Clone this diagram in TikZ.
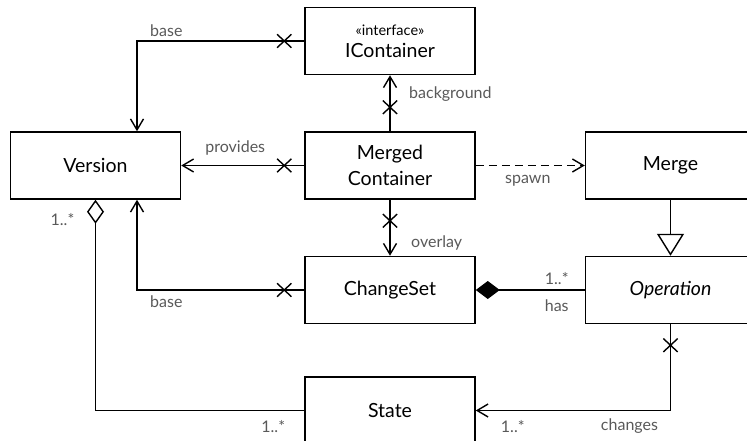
\documentclass[tikz,border=0pt]{standalone}
\usepackage{fontspec}
\setmainfont{Lato}
\usetikzlibrary{positioning,arrows.meta,shapes.misc}

\begin{document}
\begin{tikzpicture}[
          cls/.style={rectangle, draw, line width=1.5pt, fill=white,
              minimum width=170pt, minimum height=67pt, inner sep=0pt,
              font=\fontsize{19.5}{26}\selectfont, align=center},
          lbl/.style={font=\fontsize{16}{18}\selectfont, text=black!65, inner sep=0pt},
          assoc/.style={line width=1.4pt, -{Straight Barb[length=11pt, width=13pt]}},
          gen/.style={line width=1.4pt, -{Triangle[open, length=22pt, width=27pt, fill=white]}},
          comp/.style={line width=1.4pt, {Diamond[length=24pt, width=18pt]}-},
          aggr/.style={line width=1.4pt, {Diamond[open, length=24pt, width=17pt, fill=white]}-},
          xmark/.style={cross out, draw, line width=1.4pt, minimum width=13pt,
              minimum height=12pt, inner sep=0pt}
        ]
        \useasboundingbox (0,0) rectangle (747pt,-441pt);
        \clip (0,0) rectangle (747pt,-441pt);
        % classes
        \node[cls] (merged) at (390pt,-165.5pt) {Merged\\Container};
        \node[cls, above=56pt of merged]  (icont)   {{\fontsize{14.5}{16}\selectfont «interface»}\\[-4pt]IContainer};
        \node[cls, left=123pt of merged]  (version) {Version};
        \node[cls, right=109pt of merged] (merge)   {Merge};
        \node[cls, below=56pt of merged]  (change)  {ChangeSet};
        \node[cls, right=109pt of change] (oper)    {\itshape Operation};
        \node[cls, below=52pt of change]  (state)   {State};
        % helper points
        \coordinate (vtop) at ([xshift=41.5pt]version.north);
        \coordinate (vbot) at ([xshift=41.5pt]version.south);
        % connectors
        \draw[assoc] (icont.west) -| (vtop);
        \draw[assoc] (merged.west) -- (version.east);
        \draw[assoc] (merged.north) -- (icont.south);
        \draw[assoc] (merged.south) -- (change.north);
        \draw[assoc, dash pattern=on 8pt off 5pt] (merged.east) -- (merge.west);
        \draw[gen] (merge.south) -- (oper.north);
        \draw[assoc] (change.west) -| (vbot);
        \draw[comp] (change.east) -- (oper.west);
        \draw[aggr] (version.south) |- (state.west);
        \draw[assoc] (oper.south) |- (state.east);
        % non-navigable ends
        \node[xmark] (xbase)  at ([xshift=-20pt]icont.west) {};
        \node[xmark] (xprov)  at ([xshift=-20pt]merged.west) {};
        \node[xmark] (xback)  at ([yshift=24pt]merged.north) {};
        \node[xmark] (xover)  at ([yshift=-21pt]merged.south) {};
        \node[xmark] (xcbase) at ([xshift=-20pt]change.west) {};
        \node[xmark] (xchg)   at ([yshift=-21pt]oper.south) {};
        % labels
        \node[lbl, anchor=base west] (lbase)  at ([xshift=13pt, yshift=4pt]vtop |- icont.west) {base};
        \node[lbl, anchor=base]      (lprov)  at ([xshift=54pt, yshift=13pt]version.east) {provides};
        \node[lbl, anchor=base west] (lback)  at ([xshift=19pt, yshift=-23pt]icont.south) {background};
        \node[lbl, anchor=base west] (lover)  at ([xshift=21pt, yshift=8pt]change.north) {overlay};
        \node[lbl, anchor=base]      (lspawn) at ([xshift=52pt, yshift=-18pt]merged.east) {spawn};
        \node[lbl, anchor=base west] (lcbase) at ([xshift=13pt, yshift=-17pt]vbot |- change.west) {base};
        \node[lbl, anchor=base]      (lhasm)  at ([xshift=-28pt, yshift=6pt]oper.west) {1..*};
        \node[lbl, anchor=base]      (lhas)   at ([xshift=-28pt, yshift=-21pt]oper.west) {has};
        \node[lbl, anchor=base east] (lvm)    at ([xshift=-21pt, yshift=-26pt]version.south) {1..*};
        \node[lbl, anchor=base east] (lsm)    at ([xshift=-19pt, yshift=-22pt]state.west) {1..*};
        \node[lbl, anchor=base west] (lsm2)   at ([xshift=25pt, yshift=-22pt]state.east) {1..*};
        \node[lbl, anchor=base]      (lchg)   at ([xshift=-41pt, yshift=-20pt]oper.south |- state.east) {changes};
      \end{tikzpicture}
\end{document}
